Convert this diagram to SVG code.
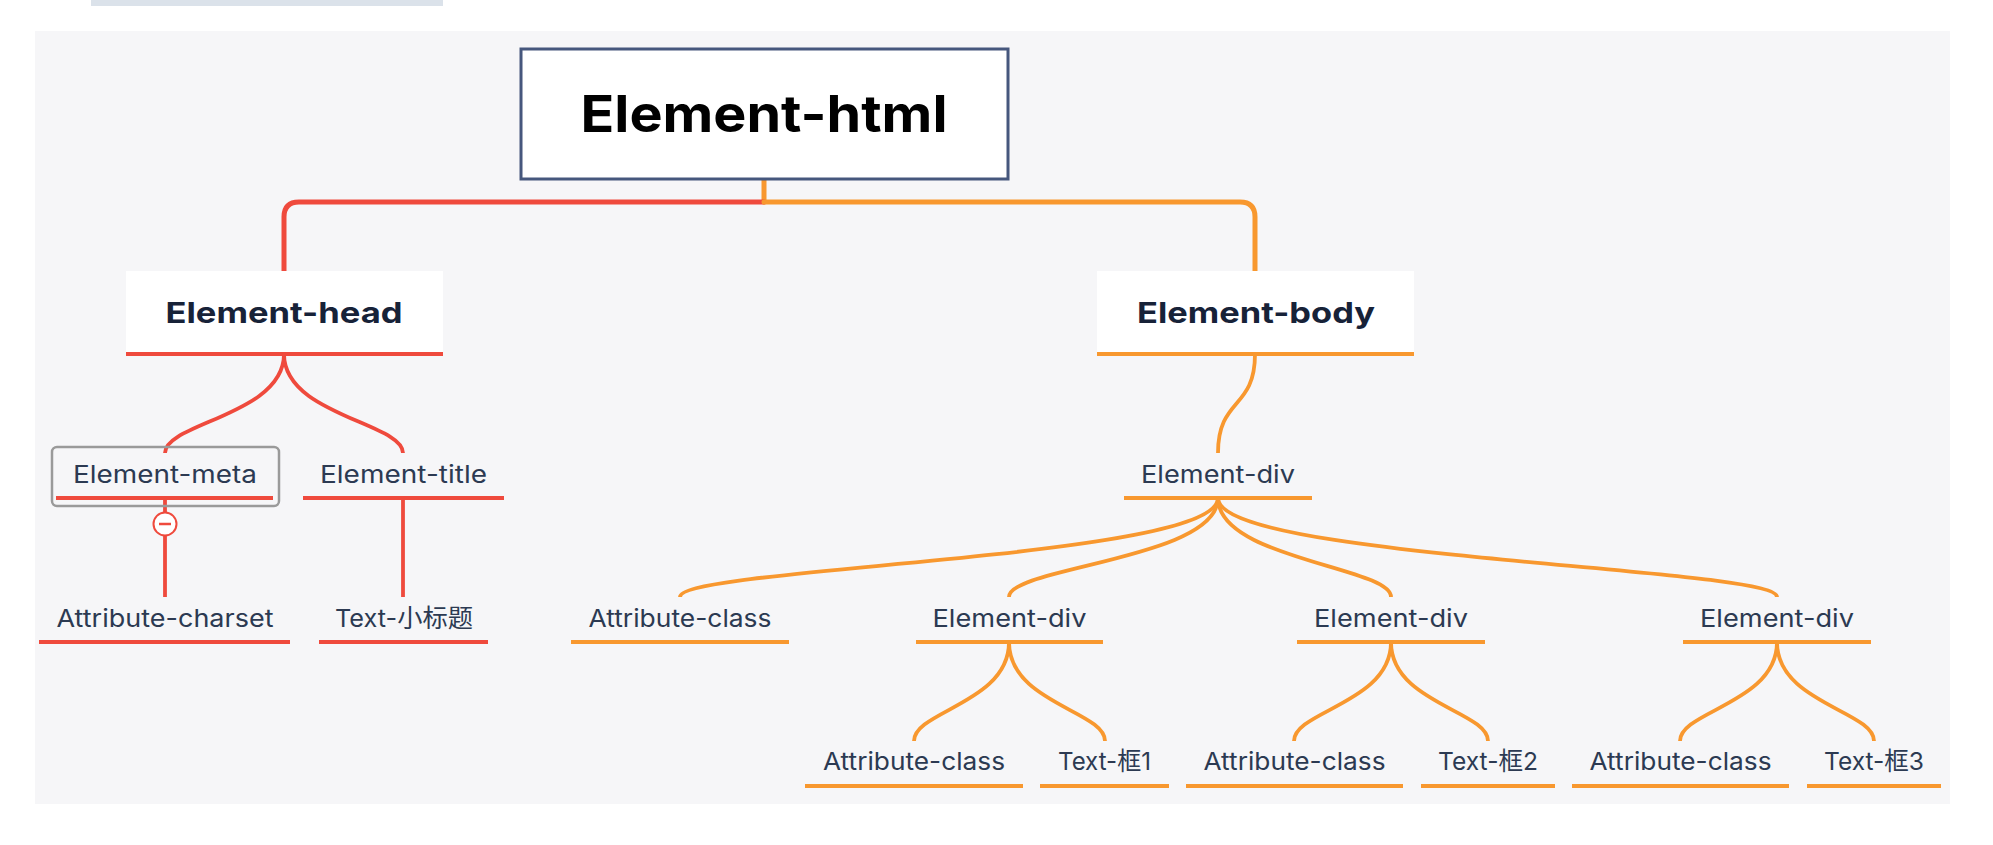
<svg xmlns="http://www.w3.org/2000/svg" width="1993" height="845" viewBox="0 0 1993 845">
<style>
.bg{fill:#f6f6f8}
.box{fill:#ffffff}
.red{stroke:#ef4a3d;fill:none}
.org{stroke:#f8982f;fill:none}
.trunk{stroke-width:5;stroke-linecap:round;stroke-linejoin:round}
.br{stroke-width:3.8;stroke-linecap:butt}
.ul{stroke-width:4}
.t0{font-family:Inter,"Liberation Sans",sans-serif;font-weight:700;font-size:51px;fill:#000000;text-anchor:middle}
.t1{font-family:Inter,"Liberation Sans",sans-serif;font-weight:700;font-size:29px;fill:#172238;text-anchor:middle}
.t2{font-family:Inter,"Noto Sans CJK SC","Liberation Sans",sans-serif;font-weight:400;font-size:24.5px;fill:#2c3a52;text-anchor:middle}
</style>
<rect x="91" y="0" width="352" height="6" fill="#dbe2ea"/>
<rect class="bg" x="35" y="31" width="1915" height="773"/>

<g id="connectors">
  <path class="org trunk" d="M764 179 V202"/>
  <path class="red trunk" d="M764 202 H299 Q284 202 284 217 V271"/>
  <path class="org trunk" d="M764 202 H1240 Q1255 202 1255 217 V271"/>
  <path class="red br" d="M284 354 C284 415 165 423 165 453"/>
  <path class="red br" d="M284 354 C284 415 403 423 403 453"/>
  <path class="red br" d="M165 498 V512"/>
  <path class="red br" d="M165 536 V597"/>
  <path class="red br" d="M403 498 V597"/>
  <path class="org br" d="M1255 354 C1255 410 1218 397 1218 453"/>
  <path class="org br" d="M1218 498 C1218 559 680 567 680 597"/>
  <path class="org br" d="M1218 498 C1218 559 1009 567 1009 597"/>
  <path class="org br" d="M1218 498 C1218 559 1391 567 1391 597"/>
  <path class="org br" d="M1218 498 C1218 559 1777 567 1777 597"/>
  <path class="org br" d="M1009 642 C1009 703 914 711 914 741"/>
  <path class="org br" d="M1009 642 C1009 703 1105 711 1105 741"/>
  <path class="org br" d="M1391 642 C1391 703 1294 711 1294 741"/>
  <path class="org br" d="M1391 642 C1391 703 1488 711 1488 741"/>
  <path class="org br" d="M1777 642 C1777 703 1680 711 1680 741"/>
  <path class="org br" d="M1777 642 C1777 703 1874 711 1874 741"/>
  <circle cx="165" cy="524" r="11.5" fill="#ffffff" stroke="#ef4a3d" stroke-width="2"/>
  <path d="M159 524 H171" stroke="#ef4a3d" stroke-width="2.5"/>
</g>

<g id="node-html">
  <rect x="521" y="49" width="487" height="130" fill="#ffffff" stroke="#46577d" stroke-width="3"/>
  <text class="t0" x="764" y="132" textLength="367" lengthAdjust="spacingAndGlyphs">Element-html</text>
</g>

<g id="node-head">
  <rect class="box" x="126" y="271" width="317" height="83"/>
  <path class="red ul" d="M126 354 H443"/>
  <text class="t1" x="284" y="323" textLength="237" lengthAdjust="spacingAndGlyphs">Element-head</text>
</g>

<g id="node-body">
  <rect class="box" x="1097" y="271" width="317" height="83"/>
  <path class="org ul" d="M1097 354 H1414"/>
  <text class="t1" x="1256" y="323" textLength="238" lengthAdjust="spacingAndGlyphs">Element-body</text>
</g>

<g id="node-meta">
  <rect x="52" y="447" width="227" height="59" rx="5" fill="none" stroke="#9a9a9a" stroke-width="2.5"/>
  <path class="red ul" d="M56 498 H273"/>
  <text class="t2" x="165" y="483" textLength="184" lengthAdjust="spacingAndGlyphs">Element-meta</text>
</g>

<g id="node-title">
  <path class="red ul" d="M303 498 H504"/>
  <text class="t2" x="403.5" y="483" textLength="167" lengthAdjust="spacingAndGlyphs">Element-title</text>
</g>

<g id="node-charset">
  <path class="red ul" d="M39 642 H290"/>
  <text class="t2" x="165" y="627" textLength="217" lengthAdjust="spacingAndGlyphs">Attribute-charset</text>
</g>

<g id="node-title-text">
  <path class="red ul" d="M319 642 H488"/>
  <text class="t2" x="404" y="627" textLength="138" lengthAdjust="spacingAndGlyphs">Text-小标题</text>
</g>

<g id="node-div">
  <path class="org ul" d="M1124 498 H1312"/>
  <text class="t2" x="1218" y="483" textLength="154" lengthAdjust="spacingAndGlyphs">Element-div</text>
</g>

<g id="node-div-class">
  <path class="org ul" d="M571 642 H789"/>
  <text class="t2" x="680" y="627" textLength="183" lengthAdjust="spacingAndGlyphs">Attribute-class</text>
</g>

<g id="node-div1">
  <path class="org ul" d="M916 642 H1103"/>
  <text class="t2" x="1009.5" y="627" textLength="154" lengthAdjust="spacingAndGlyphs">Element-div</text>
</g>

<g id="node-div2">
  <path class="org ul" d="M1297 642 H1485"/>
  <text class="t2" x="1391" y="627" textLength="154" lengthAdjust="spacingAndGlyphs">Element-div</text>
</g>

<g id="node-div3">
  <path class="org ul" d="M1683 642 H1871"/>
  <text class="t2" x="1777" y="627" textLength="154" lengthAdjust="spacingAndGlyphs">Element-div</text>
</g>

<g id="node-div1-class">
  <path class="org ul" d="M805 786 H1023"/>
  <text class="t2" x="914" y="770" textLength="182" lengthAdjust="spacingAndGlyphs">Attribute-class</text>
</g>

<g id="node-div1-text">
  <path class="org ul" d="M1040 786 H1169"/>
  <text class="t2" x="1104.5" y="770" textLength="93" lengthAdjust="spacingAndGlyphs">Text-框1</text>
</g>

<g id="node-div2-class">
  <path class="org ul" d="M1186 786 H1403"/>
  <text class="t2" x="1294.5" y="770" textLength="182" lengthAdjust="spacingAndGlyphs">Attribute-class</text>
</g>

<g id="node-div2-text">
  <path class="org ul" d="M1421 786 H1555"/>
  <text class="t2" x="1488" y="770" textLength="100" lengthAdjust="spacingAndGlyphs">Text-框2</text>
</g>

<g id="node-div3-class">
  <path class="org ul" d="M1572 786 H1789"/>
  <text class="t2" x="1680.5" y="770" textLength="182" lengthAdjust="spacingAndGlyphs">Attribute-class</text>
</g>

<g id="node-div3-text">
  <path class="org ul" d="M1807 786 H1941"/>
  <text class="t2" x="1874" y="770" textLength="100" lengthAdjust="spacingAndGlyphs">Text-框3</text>
</g>
</svg>
